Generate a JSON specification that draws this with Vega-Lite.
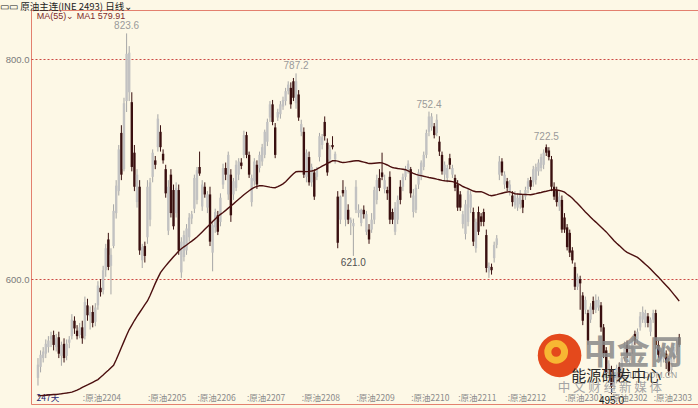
{
  "$schema": "https://vega.github.io/schema/vega-lite/v6.json",
  "width": 668,
  "height": 394,
  "autosize": {"type": "none"},
  "padding": {"left": 31, "top": 10, "right": 0, "bottom": 4},
  "background": "#fdf8e6",
  "title": {
    "text": "▭▭ 原油主连(INE 2493)  日线⌄",
    "anchor": "start",
    "frame": "group",
    "dx": -31,
    "offset": -1,
    "fontSize": 9.5,
    "fontWeight": "normal",
    "font": "Noto Sans CJK SC",
    "color": "#222222"
  },
  "config": {
    "view": {"stroke": "#e3806e", "strokeWidth": 1},
    "axis": {"labelFont": "Noto Sans CJK SC"}
  },
  "data": {
    "values": [
      {"i":0,"o":510,"h":528,"l":503,"c":522,"m":493.6},
      {"i":1,"o":520,"h":535,"l":515,"c":531,"m":493.8},
      {"i":2,"o":528,"h":538,"l":524,"c":534,"m":494.0},
      {"i":3,"o":532,"h":545,"l":528,"c":541,"m":494.2},
      {"i":4,"o":538,"h":548,"l":533,"c":544,"m":494.4},
      {"i":5,"o":545,"h":552,"l":538,"c":548,"m":494.6},
      {"i":6,"o":549,"h":553,"l":535,"c":540,"m":494.8},
      {"i":7,"o":538,"h":550,"l":534,"c":546,"m":494.9},
      {"i":8,"o":547,"h":552,"l":528,"c":532,"m":495.2},
      {"i":9,"o":530,"h":543,"l":521,"c":540,"m":495.5},
      {"i":10,"o":541,"h":546,"l":524,"c":528,"m":495.9},
      {"i":11,"o":530,"h":545,"l":526,"c":541,"m":496.2},
      {"i":12,"o":542,"h":548,"l":537,"c":545,"m":496.6},
      {"i":13,"o":548,"h":568,"l":545,"c":563,"m":497.0},
      {"i":14,"o":562,"h":566,"l":550,"c":555,"m":497.9},
      {"i":15,"o":553,"h":558,"l":545,"c":548,"m":498.9},
      {"i":16,"o":549,"h":560,"l":546,"c":556,"m":500.0},
      {"i":17,"o":556,"h":562,"l":541,"c":546,"m":501.4},
      {"i":18,"o":548,"h":584,"l":545,"c":579,"m":502.5},
      {"i":19,"o":576,"h":582,"l":562,"c":567,"m":503.6},
      {"i":20,"o":566,"h":575,"l":554,"c":570,"m":504.8},
      {"i":21,"o":570,"h":576,"l":556,"c":560,"m":506.0},
      {"i":22,"o":561,"h":578,"l":557,"c":574,"m":507.2},
      {"i":23,"o":576,"h":598,"l":572,"c":594,"m":508.4},
      {"i":24,"o":592,"h":600,"l":584,"c":588,"m":510.5},
      {"i":25,"o":590,"h":612,"l":586,"c":608,"m":512.6},
      {"i":26,"o":608,"h":632,"l":602,"c":628,"m":514.8},
      {"i":27,"o":636,"h":642,"l":608,"c":611,"m":517.0},
      {"i":28,"o":612,"h":628,"l":586,"c":622,"m":519.3},
      {"i":29,"o":630,"h":668,"l":628,"c":662,"m":521.5},
      {"i":30,"o":660,"h":690,"l":655,"c":685,"m":526.5},
      {"i":31,"o":680,"h":722,"l":676,"c":718,"m":532.0},
      {"i":32,"o":733,"h":740,"l":690,"c":695,"m":537.6},
      {"i":33,"o":700,"h":765,"l":698,"c":760,"m":543.2},
      {"i":34,"o":762,"h":823.6,"l":752,"c":805,"m":548.8,"ht":"823.6"},
      {"i":35,"o":770,"h":812,"l":762,"c":806,"m":554.0},
      {"i":36,"o":761,"h":770,"l":698,"c":702,"m":558.0},
      {"i":37,"o":715,"h":722,"l":680,"c":684,"m":562.2},
      {"i":38,"o":670,"h":700,"l":665,"c":695,"m":566.0},
      {"i":39,"o":684,"h":690,"l":622,"c":626,"m":569.5},
      {"i":40,"o":617,"h":632,"l":610,"c":629,"m":573.0},
      {"i":41,"o":630,"h":634,"l":615,"c":621,"m":576.6},
      {"i":42,"o":638,"h":690,"l":632,"c":684,"m":580.0},
      {"i":43,"o":654,"h":692,"l":648,"c":688,"m":585.0},
      {"i":44,"o":693,"h":718,"l":688,"c":715,"m":590.5},
      {"i":45,"o":708,"h":712,"l":700,"c":704,"m":596.0},
      {"i":46,"o":720,"h":750,"l":716,"c":746,"m":601.0},
      {"i":47,"o":734,"h":740,"l":716,"c":720,"m":605.8},
      {"i":48,"o":714,"h":718,"l":705,"c":708,"m":609.0},
      {"i":49,"o":700,"h":704,"l":674,"c":678,"m":612.0},
      {"i":50,"o":644,"h":690,"l":640,"c":684,"m":614.8},
      {"i":51,"o":695,"h":700,"l":656,"c":660,"m":617.5},
      {"i":52,"o":681,"h":686,"l":645,"c":648,"m":620.2},
      {"i":53,"o":660,"h":688,"l":656,"c":683,"m":622.8},
      {"i":54,"o":681,"h":686,"l":622,"c":626,"m":625.5},
      {"i":55,"o":606,"h":638,"l":601,"c":634,"m":627.5},
      {"i":56,"o":620,"h":644,"l":616,"c":640,"m":629.3},
      {"i":57,"o":626,"h":650,"l":622,"c":646,"m":631.0},
      {"i":58,"o":638,"h":660,"l":634,"c":656,"m":632.8},
      {"i":59,"o":655,"h":662,"l":650,"c":659,"m":634.5},
      {"i":60,"o":664,"h":695,"l":660,"c":692,"m":636.3},
      {"i":61,"o":672,"h":702,"l":668,"c":699,"m":638.3},
      {"i":62,"o":702,"h":716,"l":694,"c":696,"m":640.5},
      {"i":63,"o":666,"h":690,"l":662,"c":686,"m":642.8},
      {"i":64,"o":684,"h":688,"l":674,"c":677,"m":645.2},
      {"i":65,"o":665,"h":680,"l":660,"c":677,"m":647.5},
      {"i":66,"o":677,"h":684,"l":630,"c":634,"m":649.9},
      {"i":67,"o":624,"h":652,"l":607,"c":649,"m":652.3},
      {"i":68,"o":647,"h":664,"l":642,"c":661,"m":654.7},
      {"i":69,"o":658,"h":662,"l":640,"c":643,"m":657.0},
      {"i":70,"o":652,"h":678,"l":648,"c":674,"m":658.8},
      {"i":71,"o":686,"h":705,"l":682,"c":701,"m":660.6},
      {"i":72,"o":701,"h":706,"l":690,"c":695,"m":662.5},
      {"i":73,"o":677,"h":716,"l":672,"c":713,"m":664.5},
      {"i":74,"o":695,"h":700,"l":652,"c":658,"m":666.4},
      {"i":75,"o":677,"h":692,"l":672,"c":689,"m":668.4},
      {"i":76,"o":683,"h":708,"l":680,"c":704,"m":670.5},
      {"i":77,"o":695,"h":710,"l":690,"c":707,"m":672.6},
      {"i":78,"o":706,"h":710,"l":700,"c":703,"m":674.6},
      {"i":79,"o":713,"h":735,"l":710,"c":731,"m":676.7},
      {"i":80,"o":731,"h":734,"l":710,"c":713,"m":678.5},
      {"i":81,"o":713,"h":716,"l":692,"c":695,"m":680.3},
      {"i":82,"o":670,"h":695,"l":666,"c":692,"m":682.0},
      {"i":83,"o":689,"h":710,"l":685,"c":707,"m":683.5},
      {"i":84,"o":704,"h":708,"l":682,"c":686,"m":684.3},
      {"i":85,"o":701,"h":716,"l":697,"c":713,"m":684.9},
      {"i":86,"o":707,"h":723,"l":703,"c":720,"m":685.0},
      {"i":87,"o":713,"h":736,"l":710,"c":734,"m":684.6},
      {"i":88,"o":725,"h":746,"l":721,"c":743,"m":684.1},
      {"i":89,"o":747,"h":762,"l":743,"c":759,"m":683.6},
      {"i":90,"o":759,"h":763,"l":740,"c":743,"m":683.2},
      {"i":91,"o":738,"h":742,"l":710,"c":713,"m":683.1},
      {"i":92,"o":747,"h":755,"l":744,"c":752,"m":684.0},
      {"i":93,"o":750,"h":762,"l":746,"c":759,"m":685.3},
      {"i":94,"o":757,"h":766,"l":754,"c":763,"m":686.6},
      {"i":95,"o":762,"h":774,"l":758,"c":771,"m":688.6},
      {"i":96,"o":771,"h":780,"l":768,"c":777,"m":691.0},
      {"i":97,"o":774,"h":779,"l":755,"c":759,"m":693.5},
      {"i":98,"o":780,"h":783,"l":762,"c":765,"m":695.8},
      {"i":99,"o":760,"h":787.2,"l":755,"c":780,"m":697.7,"ht":"787.2"},
      {"i":100,"o":768,"h":772,"l":744,"c":747,"m":697.9},
      {"i":101,"o":734,"h":745,"l":730,"c":741,"m":697.9},
      {"i":102,"o":734,"h":738,"l":692,"c":695,"m":697.8},
      {"i":103,"o":693,"h":718,"l":688,"c":715,"m":697.8},
      {"i":104,"o":711,"h":716,"l":685,"c":688,"m":698.0},
      {"i":105,"o":688,"h":705,"l":684,"c":702,"m":698.3},
      {"i":106,"o":697,"h":700,"l":672,"c":675,"m":698.8},
      {"i":107,"o":693,"h":702,"l":690,"c":700,"m":700.0},
      {"i":108,"o":711,"h":733,"l":707,"c":730,"m":701.3},
      {"i":109,"o":722,"h":732,"l":718,"c":729,"m":702.8},
      {"i":110,"o":743,"h":748,"l":726,"c":730,"m":704.0},
      {"i":111,"o":724,"h":728,"l":694,"c":697,"m":705.2},
      {"i":112,"o":709,"h":722,"l":705,"c":718,"m":706.5},
      {"i":113,"o":722,"h":730,"l":718,"c":720,"m":707.6},
      {"i":114,"o":709,"h":716,"l":705,"c":714,"m":707.8},
      {"i":115,"o":675,"h":680,"l":628,"c":633,"m":707.3},
      {"i":116,"o":654,"h":676,"l":650,"c":675,"m":706.5},
      {"i":117,"o":681,"h":690,"l":675,"c":678,"m":706.0},
      {"i":118,"o":654,"h":684,"l":648,"c":681,"m":706.2},
      {"i":119,"o":663,"h":668,"l":650,"c":654,"m":706.6},
      {"i":120,"o":651,"h":656,"l":640,"c":654,"m":707.0},
      {"i":121,"o":648,"h":655,"l":621,"c":651,"m":707.4,"lt":"621.0"},
      {"i":122,"o":663,"h":690,"l":660,"c":684,"m":707.7},
      {"i":123,"o":660,"h":668,"l":656,"c":663,"m":707.6},
      {"i":124,"o":651,"h":664,"l":648,"c":663,"m":707.0},
      {"i":125,"o":663,"h":667,"l":655,"c":659,"m":706.4},
      {"i":126,"o":643,"h":662,"l":640,"c":659,"m":705.8},
      {"i":127,"o":645,"h":650,"l":632,"c":636,"m":705.1},
      {"i":128,"o":645,"h":660,"l":642,"c":654,"m":705.2},
      {"i":129,"o":654,"h":684,"l":650,"c":681,"m":705.4},
      {"i":130,"o":672,"h":695,"l":668,"c":690,"m":705.6},
      {"i":131,"o":692,"h":700,"l":680,"c":683,"m":705.8},
      {"i":132,"o":697,"h":715,"l":690,"c":693,"m":705.7},
      {"i":133,"o":682,"h":695,"l":678,"c":690,"m":704.8},
      {"i":134,"o":681,"h":684,"l":672,"c":678,"m":703.8},
      {"i":135,"o":693,"h":698,"l":650,"c":654,"m":702.6},
      {"i":136,"o":661,"h":664,"l":650,"c":654,"m":701.5},
      {"i":137,"o":643,"h":670,"l":640,"c":665,"m":701.0},
      {"i":138,"o":654,"h":676,"l":650,"c":672,"m":700.6},
      {"i":139,"o":684,"h":690,"l":668,"c":672,"m":700.3},
      {"i":140,"o":684,"h":696,"l":680,"c":693,"m":699.9},
      {"i":141,"o":693,"h":703,"l":690,"c":700,"m":699.5},
      {"i":142,"o":700,"h":708,"l":696,"c":705,"m":698.5},
      {"i":143,"o":700,"h":702,"l":674,"c":678,"m":697.3},
      {"i":144,"o":661,"h":682,"l":656,"c":676,"m":696.2},
      {"i":145,"o":663,"h":686,"l":660,"c":683,"m":695.2},
      {"i":146,"o":686,"h":700,"l":682,"c":697,"m":694.6},
      {"i":147,"o":693,"h":708,"l":690,"c":706,"m":694.1},
      {"i":148,"o":702,"h":716,"l":699,"c":713,"m":693.5},
      {"i":149,"o":713,"h":736,"l":710,"c":733,"m":693.0},
      {"i":150,"o":734,"h":752.4,"l":730,"c":748,"m":692.4,"ht":"752.4"},
      {"i":151,"o":738,"h":751,"l":735,"c":748,"m":692.0},
      {"i":152,"o":739,"h":742,"l":728,"c":731,"m":691.5},
      {"i":153,"o":733,"h":750,"l":730,"c":745,"m":690.9},
      {"i":154,"o":725,"h":730,"l":712,"c":716,"m":690.4},
      {"i":155,"o":713,"h":716,"l":695,"c":698,"m":689.8},
      {"i":156,"o":695,"h":707,"l":690,"c":704,"m":689.4},
      {"i":157,"o":692,"h":704,"l":688,"c":701,"m":689.2},
      {"i":158,"o":710,"h":714,"l":700,"c":704,"m":689.0},
      {"i":159,"o":695,"h":704,"l":692,"c":701,"m":688.7},
      {"i":160,"o":692,"h":695,"l":680,"c":683,"m":688.0},
      {"i":161,"o":686,"h":690,"l":662,"c":665,"m":686.8},
      {"i":162,"o":677,"h":680,"l":662,"c":665,"m":685.6},
      {"i":163,"o":650,"h":662,"l":646,"c":659,"m":684.2},
      {"i":164,"o":641,"h":672,"l":636,"c":668,"m":683.2},
      {"i":165,"o":652,"h":683,"l":648,"c":680,"m":682.2},
      {"i":166,"o":665,"h":680,"l":660,"c":677,"m":681.2},
      {"i":167,"o":661,"h":665,"l":630,"c":634,"m":680.1},
      {"i":168,"o":628,"h":655,"l":624,"c":652,"m":679.5},
      {"i":169,"o":661,"h":666,"l":640,"c":643,"m":679.5},
      {"i":170,"o":657,"h":660,"l":648,"c":652,"m":679.5},
      {"i":171,"o":661,"h":664,"l":648,"c":652,"m":678.6},
      {"i":172,"o":640,"h":645,"l":606,"c":610,"m":677.6},
      {"i":173,"o":606,"h":615,"l":601,"c":612,"m":676.4},
      {"i":174,"o":611,"h":614,"l":604,"c":608,"m":675.8},
      {"i":175,"o":619,"h":634,"l":615,"c":631,"m":676.3},
      {"i":176,"o":631,"h":640,"l":628,"c":637,"m":676.8},
      {"i":177,"o":695,"h":712,"l":690,"c":707,"m":677.5},
      {"i":178,"o":707,"h":710,"l":694,"c":697,"m":678.1},
      {"i":179,"o":686,"h":698,"l":682,"c":695,"m":678.7},
      {"i":180,"o":689,"h":692,"l":680,"c":683,"m":679.2},
      {"i":181,"o":680,"h":690,"l":676,"c":686,"m":679.5},
      {"i":182,"o":676,"h":680,"l":666,"c":670,"m":678.5},
      {"i":183,"o":667,"h":680,"l":664,"c":676,"m":677.6},
      {"i":184,"o":665,"h":678,"l":662,"c":674,"m":677.4},
      {"i":185,"o":668,"h":681,"l":664,"c":678,"m":677.2},
      {"i":186,"o":672,"h":677,"l":660,"c":665,"m":677.0},
      {"i":187,"o":675,"h":684,"l":672,"c":681,"m":676.9},
      {"i":188,"o":682,"h":692,"l":678,"c":689,"m":676.8},
      {"i":189,"o":690,"h":693,"l":681,"c":684,"m":676.7},
      {"i":190,"o":688,"h":703,"l":684,"c":700,"m":677.2},
      {"i":191,"o":690,"h":705,"l":686,"c":702,"m":677.7},
      {"i":192,"o":698,"h":709,"l":694,"c":706,"m":678.3},
      {"i":193,"o":701,"h":714,"l":698,"c":711,"m":678.8},
      {"i":194,"o":704,"h":718,"l":700,"c":715,"m":679.4},
      {"i":195,"o":720,"h":722.5,"l":712,"c":715,"m":679.9,"ht":"722.5"},
      {"i":196,"o":717,"h":720,"l":708,"c":711,"m":680.5},
      {"i":197,"o":709,"h":712,"l":680,"c":684,"m":681.0},
      {"i":198,"o":684,"h":688,"l":672,"c":675,"m":681.3},
      {"i":199,"o":681,"h":684,"l":666,"c":670,"m":681.0},
      {"i":200,"o":666,"h":679,"l":662,"c":675,"m":680.6},
      {"i":201,"o":672,"h":676,"l":642,"c":645,"m":680.0},
      {"i":202,"o":656,"h":660,"l":642,"c":645,"m":679.0},
      {"i":203,"o":647,"h":650,"l":626,"c":629,"m":677.2},
      {"i":204,"o":642,"h":645,"l":620,"c":624,"m":675.5},
      {"i":205,"o":626,"h":629,"l":614,"c":617,"m":673.5},
      {"i":206,"o":611,"h":615,"l":590,"c":593,"m":671.0},
      {"i":207,"o":593,"h":605,"l":590,"c":602,"m":668.8},
      {"i":208,"o":600,"h":603,"l":572,"c":596,"m":666.3},
      {"i":209,"o":585,"h":588,"l":558,"c":562,"m":663.6},
      {"i":210,"o":572,"h":584,"l":568,"c":581,"m":661.0},
      {"i":211,"o":569,"h":572,"l":540,"c":544,"m":658.7},
      {"i":212,"o":563,"h":578,"l":560,"c":575,"m":656.3},
      {"i":213,"o":580,"h":584,"l":568,"c":572,"m":653.9},
      {"i":214,"o":572,"h":586,"l":569,"c":581,"m":651.8},
      {"i":215,"o":574,"h":584,"l":571,"c":581,"m":649.6},
      {"i":216,"o":576,"h":579,"l":552,"c":556,"m":647.4},
      {"i":217,"o":556,"h":559,"l":528,"c":532,"m":645.1},
      {"i":218,"o":535,"h":538,"l":510,"c":514,"m":642.9},
      {"i":219,"o":514,"h":526,"l":510,"c":523,"m":640.2},
      {"i":220,"o":518,"h":521,"l":495,"c":502,"m":637.5,"lt":"495.0"},
      {"i":221,"o":502,"h":515,"l":498,"c":512,"m":634.8},
      {"i":222,"o":508,"h":522,"l":505,"c":519,"m":632.5},
      {"i":223,"o":520,"h":524,"l":506,"c":510,"m":630.4},
      {"i":224,"o":512,"h":532,"l":509,"c":528,"m":628.2},
      {"i":225,"o":528,"h":543,"l":525,"c":540,"m":626.0},
      {"i":226,"o":540,"h":544,"l":528,"c":532,"m":624.2},
      {"i":227,"o":526,"h":540,"l":522,"c":537,"m":623.0},
      {"i":228,"o":535,"h":546,"l":532,"c":543,"m":621.9},
      {"i":229,"o":550,"h":553,"l":540,"c":544,"m":620.8},
      {"i":230,"o":545,"h":555,"l":542,"c":552,"m":619.7},
      {"i":231,"o":556,"h":570,"l":553,"c":566,"m":617.7},
      {"i":232,"o":563,"h":575,"l":560,"c":570,"m":615.6},
      {"i":233,"o":560,"h":572,"l":556,"c":569,"m":613.5},
      {"i":234,"o":566,"h":569,"l":556,"c":560,"m":611.4},
      {"i":235,"o":552,"h":565,"l":548,"c":563,"m":609.0},
      {"i":236,"o":563,"h":572,"l":560,"c":569,"m":606.6},
      {"i":237,"o":569,"h":572,"l":536,"c":540,"m":604.2},
      {"i":238,"o":540,"h":544,"l":528,"c":531,"m":601.8},
      {"i":239,"o":524,"h":536,"l":520,"c":533,"m":599.2},
      {"i":240,"o":527,"h":538,"l":524,"c":535,"m":596.6},
      {"i":241,"o":532,"h":535,"l":518,"c":524,"m":594.1},
      {"i":242,"o":525,"h":528,"l":512,"c":516,"m":591.5},
      {"i":243,"o":517,"h":530,"l":514,"c":527,"m":588.7},
      {"i":244,"o":527,"h":538,"l":524,"c":536,"m":585.8},
      {"i":245,"o":534,"h":545,"l":531,"c":542,"m":582.9},
      {"i":246,"o":547,"h":550,"l":538,"c":540,"m":579.9}
    ]
  },
  "layer": [
    {
      "mark": {"type": "rule", "strokeWidth": 1},
      "encoding": {
        "x": {
          "field": "i", "type": "quantitative", "title": null,
          "scale": {"domain": [-0.756, 251.67], "nice": false, "zero": false},
          "axis": {
            "values": [-0.75, 17, 42, 61, 80, 101, 122, 143, 161, 180, 202, 219, 236],
            "labelExpr": "datum.value < 0 ? '247天' : datum.value == 17 ? ':原油2204' : datum.value == 42 ? ':原油2205' : datum.value == 61 ? ':原油2206' : datum.value == 80 ? ':原油2207' : datum.value == 101 ? ':原油2208' : datum.value == 122 ? ':原油2209' : datum.value == 143 ? ':原油2210' : datum.value == 161 ? ':原油2211' : datum.value == 180 ? ':原油2212' : datum.value == 202 ? ':原油2301' : datum.value == 219 ? ':原油2302' : ':原油2303'",
            "labelAlign": "left",
            "labelBaseline": "top",
            "labelPadding": -11,
            "labelFontSize": 8.5,
            "labelColor": {"condition": {"test": "datum.value < 0", "value": "#1f2470"}, "value": "#8a8a8a"},
            "labelOverlap": false,
            "labelBound": false,
            "labelFlush": false,
            "ticks": false,
            "domain": false,
            "grid": false
          }
        },
        "y": {
          "field": "l", "type": "quantitative", "title": null,
          "scale": {"domain": [486.2, 844.9], "nice": false, "zero": false},
          "axis": {
            "values": [600, 800],
            "format": ".1f",
            "labelFontSize": 9.5,
            "labelFont": "Liberation Sans",
            "labelColor": "#7a7a7a",
            "labelPadding": 2,
            "ticks": false,
            "domain": false,
            "grid": true,
            "gridColor": "#cc4a44",
            "gridOpacity": 1,
            "gridDash": [2, 2],
            "gridWidth": 1
          }
        },
        "y2": {"field": "h"},
        "color": {
          "condition": {"test": "datum.c >= datum.o", "value": "#a6a6a6"},
          "value": "#3a1010"
        }
      }
    },
    {
      "mark": {"type": "bar", "width": 2.4},
      "encoding": {
        "x": {"field": "i", "type": "quantitative", "title": null, "scale": {"domain": [-0.756, 251.67], "nice": false, "zero": false}},
        "y": {"field": "o", "type": "quantitative", "title": null, "scale": {"domain": [486.2, 844.9], "nice": false, "zero": false}},
        "y2": {"field": "c"},
        "color": {
          "condition": {"test": "datum.c >= datum.o", "value": "#c2c2c2"},
          "value": "#3a1010"
        }
      }
    },
    {
      "mark": {"type": "line", "color": "#4b0f0f", "strokeWidth": 1.4},
      "encoding": {
        "x": {"field": "i", "type": "quantitative", "title": null, "scale": {"domain": [-0.756, 251.67], "nice": false, "zero": false}},
        "y": {"field": "m", "type": "quantitative", "title": null, "scale": {"domain": [486.2, 844.9], "nice": false, "zero": false}}
      }
    },
    {
      "transform": [{"filter": "datum.ht"}],
      "mark": {"type": "text", "baseline": "bottom", "dy": -2, "fontSize": 10, "font": "Liberation Sans", "color": "#9a9a9a"},
      "encoding": {
        "x": {"field": "i", "type": "quantitative", "title": null, "scale": {"domain": [-0.756, 251.67], "nice": false, "zero": false}},
        "y": {"field": "h", "type": "quantitative", "title": null, "scale": {"domain": [486.2, 844.9], "nice": false, "zero": false}},
        "text": {"field": "ht"}
      }
    },
    {
      "transform": [{"filter": "datum.lt"}],
      "mark": {"type": "text", "baseline": "top", "dy": 2, "fontSize": 10, "font": "Liberation Sans"},
      "encoding": {
        "x": {"field": "i", "type": "quantitative", "title": null, "scale": {"domain": [-0.756, 251.67], "nice": false, "zero": false}},
        "y": {"field": "l", "type": "quantitative", "title": null, "scale": {"domain": [486.2, 844.9], "nice": false, "zero": false}},
        "text": {"field": "lt"},
        "color": {"condition": {"test": "datum.l < 550", "value": "#1a1a1a"}, "value": "#505050"}
      }
    },
    {
      "data": {"values": [{"t": "MA(55)⌄ MA1 579.91"}]},
      "mark": {"type": "text", "align": "left", "baseline": "middle", "fontSize": 9, "font": "Liberation Sans", "color": "#7d2b2b"},
      "encoding": {
        "x": {"datum": -0.5, "type": "quantitative", "title": null},
        "y": {"datum": 839.0, "type": "quantitative", "title": null},
        "text": {"field": "t"}
      }
    },
    {
      "data": {"values": [{"k": "logo"}]},
      "mark": {"type": "point", "filled": true, "size": 1900, "color": "#e4491c", "opacity": 1},
      "encoding": {
        "x": {"datum": 200.1, "type": "quantitative", "title": null},
        "y": {"datum": 530.4, "type": "quantitative", "title": null}
      }
    },
    {
      "data": {"values": [{"k": "swirl"}]},
      "mark": {"type": "point", "filled": false, "size": 280, "strokeWidth": 7, "color": "#f7b733", "opacity": 1},
      "encoding": {
        "x": {"datum": 198.8, "type": "quantitative", "title": null},
        "y": {"datum": 533.6, "type": "quantitative", "title": null}
      }
    },
    {
      "data": {"values": [{"t": "中金网"}]},
      "mark": {"type": "text", "align": "center", "baseline": "middle", "fontSize": 33, "fontWeight": "bold", "font": "Noto Sans CJK SC", "color": "#8a8a8a", "opacity": 0.85},
      "encoding": {
        "x": {"datum": 228.4, "type": "quantitative", "title": null},
        "y": {"datum": 531.7, "type": "quantitative", "title": null},
        "text": {"field": "t"}
      }
    },
    {
      "data": {"values": [{"t": "CNGOLD.COM.CN"}]},
      "mark": {"type": "text", "align": "right", "baseline": "middle", "fontSize": 8.5, "font": "Liberation Sans", "color": "#9a9a9a"},
      "encoding": {
        "x": {"datum": 245.2, "type": "quantitative", "title": null},
        "y": {"datum": 512.6, "type": "quantitative", "title": null},
        "text": {"field": "t"}
      }
    },
    {
      "data": {"values": [{"t": "能源研发中心"}]},
      "mark": {"type": "text", "align": "center", "baseline": "middle", "fontSize": 15, "font": "Noto Sans CJK SC", "color": "#2a2a2a"},
      "encoding": {
        "x": {"datum": 221.8, "type": "quantitative", "title": null},
        "y": {"datum": 511.7, "type": "quantitative", "title": null},
        "text": {"field": "t"}
      }
    },
    {
      "data": {"values": [{"t": "中   文   财   经   新   媒   体"}]},
      "mark": {"type": "text", "align": "center", "baseline": "middle", "fontSize": 12.5, "font": "Noto Sans CJK SC", "color": "#a5a5a5"},
      "encoding": {
        "x": {"datum": 219.4, "type": "quantitative", "title": null},
        "y": {"datum": 500.8, "type": "quantitative", "title": null},
        "text": {"field": "t"}
      }
    }
  ]
}
